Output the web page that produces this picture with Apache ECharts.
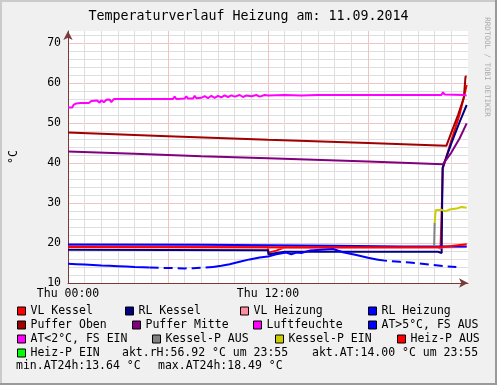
<!DOCTYPE html>
<html><head><meta charset="utf-8">
<script src="https://cdn.jsdelivr.net/npm/echarts@6/dist/echarts.min.js"></script>
<style>html,body{margin:0;padding:0;background:#f0f0f0}#c{width:497px;height:385px}</style>
</head><body><div id="c"></div>
<script>
// ---------- data (hours since Thu 00:00, °C) ----------
const titleText = 'Temperaturverlauf Heizung am: 11.09.2014';
const xTickLabels = { 0: 'Thu 00:00', 12: 'Thu 12:00' };
const yTickLabels = [10, 20, 30, 40, 50, 60, 70];
const yUnit = '°C';
const watermark = 'RRDTOOL / TOBI OETIKER';

const seriesNames = ['VL Kessel','RL Kessel','VL Heizung','RL Heizung','Puffer Oben','Puffer Mitte','Luftfeuchte','AT>5°C, FS AUS','AT<2°C, FS EIN','Kessel-P AUS','Kessel-P EIN','Heiz-P AUS','Heiz-P EIN'];
const seriesColors = ['#ff0000','#000080','#ff8c9f','#0000ff','#a00000','#800080','#ff00ff','#0000ff','#ff00ff','#808080','#cccc00','#ff0000','#00ff00'];

const vlKessel = [[0,19.1],[6,19.05],[12,19.0],[12.03,17.6],[12.5,18.1],[13.0,18.9],[18,18.9],[22.2,18.85],[22.35,18.6],[22.45,19.0],[22.5,38.8],[23.0,45.6],[23.5,52.2],[23.8,57.3],[23.92,59.5]];
const rlKessel = [[0,18.3],[6,18.25],[12,18.2],[12.03,17.1],[12.5,17.5],[13.0,17.8],[18,17.8],[22.2,17.8],[22.3,17.4],[22.42,17.5],[22.47,38.7],[23.0,44.9],[23.5,50.3],[23.92,54.5]];
const vlHeizung = [[0,18.95],[12,18.9],[22.4,18.9],[23.92,19.0]];
const rlHeizung = [[0,19.65],[8,19.55],[12,19.45],[16,19.3],[20,19.15],[23.92,19.15]];
const pufferOben = [[0,47.6],[6,46.7],[12,45.8],[18,45.0],[22.7,44.3],[23.0,47.6],[23.4,52.0],[23.75,56.3],[23.85,61.6],[23.92,61.6]];
const pufferMitte = [[0,42.9],[4,42.3],[8,41.7],[12,41.2],[18,40.4],[22.5,39.7],[23.0,42.6],[23.5,46.2],[23.92,49.9]];
const luftfeuchte = [[0,53.9],[0.25,53.9],[0.35,54.6],[0.5,54.9],[0.75,55.0],[1.0,55.0],[1.25,55.0],[1.4,55.5],[1.5,55.0],[1.75,55.6],[1.9,55.1],[2.0,55.7],[2.15,55.2],[2.3,55.8],[2.5,55.9],[2.6,55.2],[2.75,56.0],[3.0,56.0],[3.5,56.0],[4.0,56.0],[4.4,56.0],[4.5,56.4],[4.6,56.0],[5.0,56.0],[5.5,56.0],[5.6,56.5],[5.7,56.0],[6.3,56.0],[6.4,56.6],[6.5,56.0],[7.0,56.1],[7.1,56.7],[7.2,56.1],[7.5,56.1],[7.6,56.8],[7.7,56.2],[8.0,56.3],[8.2,56.7],[8.4,56.2],[8.6,56.8],[8.8,56.3],[9.0,56.8],[9.2,56.4],[9.4,56.9],[9.6,56.5],[9.8,56.9],[10.0,56.6],[10.3,57.0],[10.5,56.5],[10.7,56.9],[11.0,56.7],[11.3,57.0],[11.5,56.6],[11.8,57.0],[12,56.9],[13,57.0],[14,56.9],[15,57.0],[16,57.0],[18,57.0],[20,57.0],[22.4,57.0],[22.5,57.7],[22.6,57.1],[23.7,57.0],[23.92,56.9]];
const atTemp = [[0,14.8],[0.5,14.7],[1,14.6],[1.5,14.5],[2,14.35],[2.5,14.3],[3,14.2],[3.5,14.1],[4,14.0],[4.5,13.95],[4.9,13.9],[5.5,13.8],[6,13.75],[6.5,13.7],[7,13.65],[7.5,13.7],[8,13.8],[8.7,14.0],[9.2,14.3],[9.7,14.7],[10.3,15.3],[10.9,15.9],[11.5,16.4],[12,16.6],[12.5,17.2],[13.1,17.6],[13.4,17.2],[13.7,17.6],[14.0,17.5],[14.5,18.1],[15.2,18.3],[15.9,18.49],[16.5,17.7],[17.3,17.0],[18.0,16.3],[18.6,15.8],[19.2,15.5],[19.9,15.3],[20.5,15.1],[21.1,14.9],[21.9,14.5],[22.6,14.2],[23.3,14.0]];
const atGapRanges = [[4.9,8.7],[18.6,23.3]];
const atLow = [];
const kesselPAus = [[21.97,19.3],[22.0,25.0]];
const kesselPEin = [[22.0,25.0],[22.06,28.2],[22.4,28.3],[22.65,27.9],[22.9,28.4],[23.3,28.6],[23.6,29.0],[23.92,28.8]];
const heizPAus = [[0,19.0],[12,18.95],[22.4,19.0],[23.0,19.25],[23.92,19.7]];
const heizPEin = [];

const infoTexts = ['akt.rH:56.92 °C um 23:55','akt.AT:14.00 °C um 23:55','min.AT24h:13.64 °C','max.AT24h:18.49 °C'];

// ---------- layout ----------
const FONT = 'DejaVu Sans Mono';
const FS = 11.5;
const legendRows = [311, 325, 339, 353];
const legendLefts = [[17,125,240,368],[17,132,253,368],[17,152,275,397],[17]];
const infoPos = [[122,353],[312,353],[16,366],[158,366]];

const inGap = h => atGapRanges.some(r => h >= r[0] && h <= r[1]);
const atSolid = atTemp.map(p => (inGap(p[0]) && !atGapRanges.some(r => p[0] === r[0] || p[0] === r[1])) ? [p[0], null] : p);
const atDash = atTemp.map(p => inGap(p[0]) ? p : [p[0], null]);

const dataByName = [vlKessel, rlKessel, vlHeizung, rlHeizung, pufferOben, pufferMitte, luftfeuchte, atSolid, atLow, kesselPAus, kesselPEin, heizPAus, heizPEin];

const series = seriesNames.map((n, i) => ({
  name: n, type: 'line', data: dataByName[i], symbol: 'none', showSymbol: false,
  connectNulls: false, animation: false, color: seriesColors[i],
  itemStyle: { color: seriesColors[i] },
  lineStyle: { color: seriesColors[i], width: 2 }
}));
series.splice(8, 0, {
  name: 'AT-Lücke', type: 'line', data: atDash, symbol: 'none', showSymbol: false,
  connectNulls: false, animation: false, color: seriesColors[7],
  lineStyle: { color: seriesColors[7], width: 2, type: [9, 5] }
});

const legends = [];
let k = 0;
legendLefts.forEach((row, r) => row.forEach(left => {
  legends.push({
    data: [seriesNames[k]], left: left, top: legendRows[r] - 7, padding: 0,
    icon: 'rect', itemWidth: 8, itemHeight: 8, selectedMode: false,
    itemStyle: { borderColor: '#000', borderWidth: 1 },
    textStyle: { fontFamily: FONT, fontSize: FS, color: '#000', lineHeight: 14 }
  });
  k++;
}));

const graphics = [
  { type: 'rect', shape: { x: 0, y: 0, width: 497, height: 2 }, style: { fill: '#cbcbcb' }, silent: true },
  { type: 'rect', shape: { x: 0, y: 0, width: 2, height: 385 }, style: { fill: '#cbcbcb' }, silent: true },
  { type: 'rect', shape: { x: 0, y: 383, width: 497, height: 2 }, style: { fill: '#999999' }, silent: true },
  { type: 'rect', shape: { x: 495, y: 0, width: 2, height: 385 }, style: { fill: '#999999' }, silent: true },
  { type: 'text', x: 487, y: 67, rotation: -Math.PI / 2, silent: true,
    style: { text: watermark, fontFamily: FONT, fontSize: 7.5, fill: '#aaaaaa', align: 'center', verticalAlign: 'middle' } },
  { type: 'text', x: 14, y: 157, rotation: Math.PI / 2, silent: true,
    style: { text: yUnit, fontFamily: FONT, fontSize: FS, fill: '#000', align: 'center', verticalAlign: 'middle' } },
  { type: 'text', x: 248.5, y: 16.5, silent: true,
    style: { text: titleText, fontFamily: FONT, fontSize: 13.3, fill: '#000', align: 'center', verticalAlign: 'middle' } }
];
infoTexts.forEach((t, i) => graphics.push({ type: 'text', x: infoPos[i][0], y: infoPos[i][1], silent: true,
  style: { text: t, fontFamily: FONT, fontSize: FS, fill: '#000', align: 'left', verticalAlign: 'middle' } }));

const minor = '#dedede', major = '#f0c4c4', axisCol = '#7a3a3a';
const chart = echarts.init(document.getElementById('c'), null, { renderer: 'canvas' });
chart.setOption({
  animation: false,
  backgroundColor: '#f0f0f0',
  grid: { left: 68, top: 31, width: 400, height: 252, show: true, backgroundColor: '#ffffff', borderWidth: 0, containLabel: false },
  xAxis: {
    type: 'value', min: 0, max: 24, interval: 1,
    axisLine: { show: true, lineStyle: { color: axisCol, width: 1 }, symbol: ['none', 'arrow'], symbolSize: [7, 9] },
    axisTick: { show: false },
    axisLabel: { margin: 5, fontFamily: FONT, fontSize: FS, color: '#000', formatter: v => xTickLabels[v] || '' },
    splitLine: { show: true, showMaxLine: false, lineStyle: { color: [major, minor, minor, minor, minor, minor], width: 1 } }
  },
  yAxis: {
    type: 'value', min: 10, max: 73, interval: 2,
    axisLine: { show: true, lineStyle: { color: axisCol, width: 1 }, symbol: ['none', 'arrow'], symbolSize: [7, 9] },
    axisTick: { show: false },
    axisLabel: { margin: 7, fontFamily: FONT, fontSize: FS, color: '#000', formatter: v => yTickLabels.includes(v) ? String(v) : '' },
    splitLine: { show: true, showMaxLine: false, lineStyle: { color: [major, minor, minor, minor, minor], width: 1 } }
  },
  legend: legends,
  graphic: graphics,
  series: series
});
</script></body></html>
